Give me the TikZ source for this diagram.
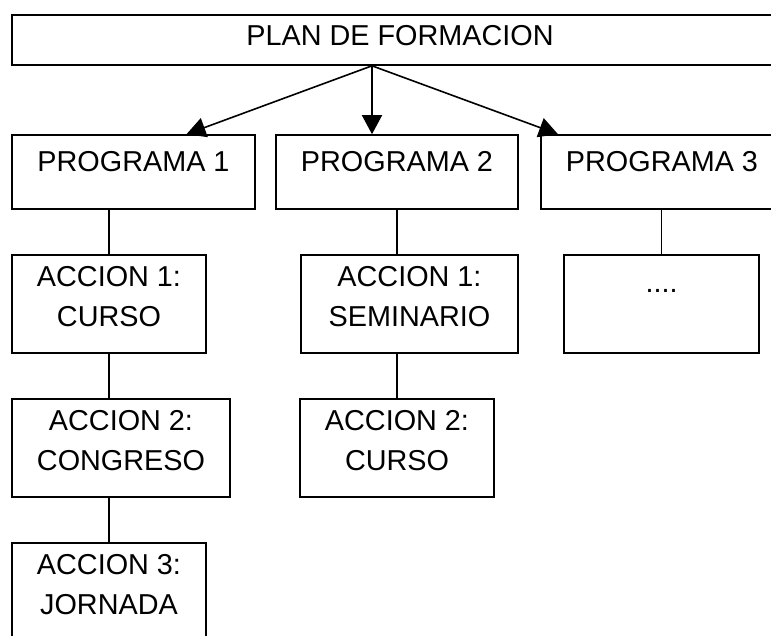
\documentclass[tikz,border=0pt]{standalone}
\usepackage{fontspec}
\setmainfont{Liberation Sans}
\usetikzlibrary{arrows.meta,calc}
\begin{document}
\begin{tikzpicture}[x=1pt,y=-1pt,
  box/.style={draw=black,line width=1.6pt,fill=white,inner sep=0pt,minimum height=#1},
  box/.default=98,
  lbl/.style={inner sep=0pt,align=center,font=\fontsize{28.8}{40}\selectfont},
  link/.style={line width=1.6pt},
  arr/.style={line width=1.6pt,-{Triangle[length=19pt,width=20pt]}}]
\useasboundingbox (0,0) rectangle (771,635);
\fill[white] (0,0) rectangle (771,635);
\clip (0,0) rectangle (771,635);
% boxes
\node[box=50,minimum width=776] (top) at (400,40) {};
\node[box=74,minimum width=243] (p1) at (133.5,172) {};
\node[box=74,minimum width=242] (p2) at (397,172) {};
\node[box=74,minimum width=242] (p3) at (662,172) {};
\node[box,minimum width=194] (a11) at (109,304) {};
\node[box,minimum width=218] (a12) at (121,448) {};
\node[box,minimum width=194] (a13) at (109,592) {};
\node[box,minimum width=217] (a21) at (409.5,304) {};
\node[box,minimum width=194] (a22) at (397,448) {};
\node[box,minimum width=195] (a31) at (661.5,304) {};
% texts
\node[lbl,anchor=north] (ttop) at ($(top.north)+(0,11)$) {PLAN DE FORMACION};
\node[lbl,anchor=north] (tp1) at ($(p1.north)+(0,17)$) {PROGRAMA 1};
\node[lbl,anchor=north] (tp2) at ($(p2.north)+(0,17)$) {PROGRAMA 2};
\node[lbl,anchor=north] (tp3) at ($(p3.north)+(0,17)$) {PROGRAMA 3};
\node[lbl,anchor=north] (ta11) at ($(a11.north)+(0,12)$) {ACCION 1:\\CURSO};
\node[lbl,anchor=north] (ta12) at ($(a12.north)+(0,12)$) {ACCION 2:\\CONGRESO};
\node[lbl,anchor=north] (ta13) at ($(a13.north)+(0,12)$) {ACCION 3:\\JORNADA};
\node[lbl,anchor=north] (ta21) at ($(a21.north)+(0,12)$) {ACCION 1:\\SEMINARIO};
\node[lbl,anchor=north] (ta22) at ($(a22.north)+(0,12)$) {ACCION 2:\\CURSO};
\node[lbl,anchor=base] (ta31) at ($(a31.north)+(0,38)$) {....};
% arrows
\coordinate (apex) at ($(top.south)+(-28,0)$);
\draw[arr] (apex) -- ([xshift=53pt]p1.north);
\draw[arr] (apex) -- (apex |- p2.north);
\draw[arr] (apex) -- ([xshift=-104pt]p3.north);
% links
\draw[link] (a11.north) -- (a11.north |- p1.south);
\draw[link] (a11.south) -- (a11.south |- a12.north);
\draw[link] (a13.north) -- (a13.north |- a12.south);
\draw[link] (p2.south) -- (p2.south |- a21.north);
\draw[link] (a22.north) -- (a22.north |- a21.south);
\draw[link] (a31.north) -- (a31.north |- p3.south);
\end{tikzpicture}
\end{document}
